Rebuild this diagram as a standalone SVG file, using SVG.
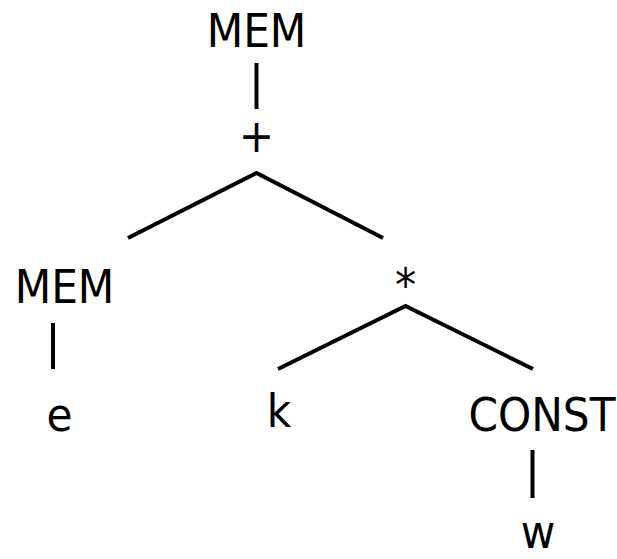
<svg xmlns="http://www.w3.org/2000/svg" width="617" height="559" viewBox="0 0 617 559">
<style>
text{font-family:"DejaVu Sans Condensed","DejaVu Sans",sans-serif;font-stretch:condensed;font-size:47px;fill:#000;text-anchor:middle}
.e{stroke:#000;stroke-width:4;fill:none;stroke-linecap:butt}
</style>
<rect width="617" height="559" fill="#fff"/>
<g id="connectors">
<line class="e" x1="256.5" y1="63" x2="256.5" y2="109"/>
<polyline class="e" points="128,238 256.5,173 383,238"/>
<line class="e" x1="53" y1="323" x2="53" y2="369"/>
<polyline class="e" points="278,369 405.5,306 533,369"/>
<line class="e" x1="532.5" y1="450" x2="532.5" y2="498"/>
</g>
<g id="n-mem-top"><text x="256.5" y="47">MEM</text></g>
<g id="n-plus"><text x="256.5" y="152">+</text></g>
<g id="n-mem-left"><text x="64.5" y="303">MEM</text></g>
<g id="n-star"><text x="405.5" y="301">*</text></g>
<g id="n-e"><text x="59.5" y="431">e</text></g>
<g id="n-k"><text x="279" y="427">k</text></g>
<g id="n-const"><text x="542" y="431">CONST</text></g>
<g id="n-w"><text x="538" y="548">w</text></g>
</svg>
